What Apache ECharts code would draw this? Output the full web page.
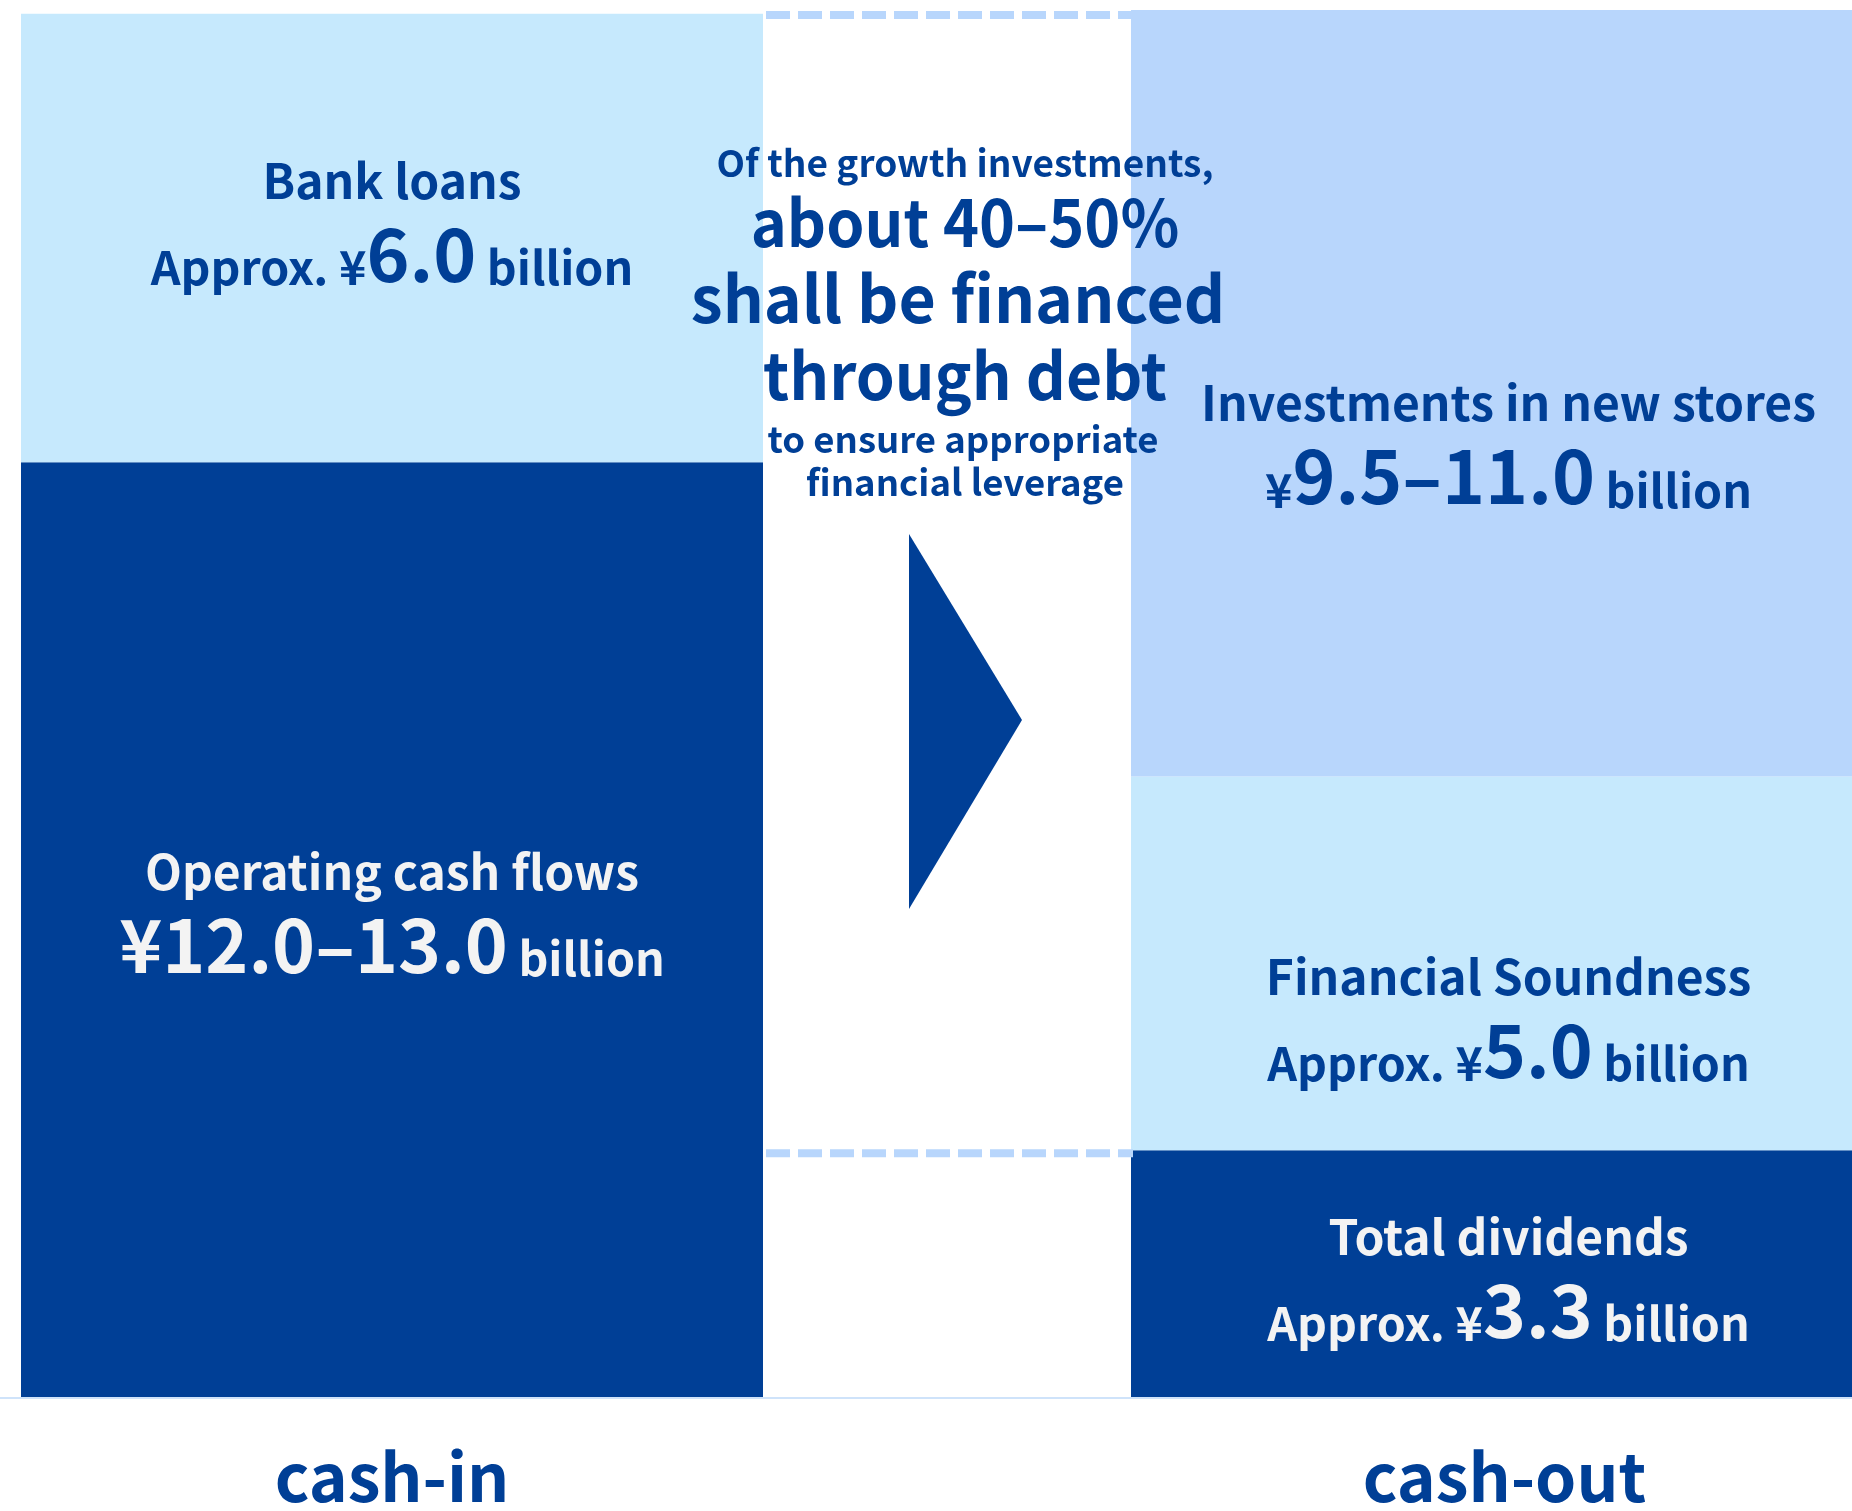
<!DOCTYPE html>
<html>
<head>
<meta charset="utf-8">
<script src="https://cdn.jsdelivr.net/npm/echarts@6/dist/echarts.min.js"></script>
<style>
  html, body { margin: 0; padding: 0; background: #ffffff; }
  #chart { width: 1852px; height: 1511px; }
</style>
</head>
<body>
<div id="chart"></div>
<script>
// Cash allocation plan, billions of yen. Ranges are drawn at their midpoint.
const sides = ['cash-in', 'cash-out'];

const cashInNames = ['Operating cash flows', 'Bank loans'];
const cashInValues = [12.5, 6.0];            // ¥12.0–13.0 bn, approx. ¥6.0 bn
const cashInLabels = [
  '{tw|Operating cash flows}\n{bw|¥12.0–13.0}{sw| billion}',
  '{t|Bank loans}\n{s|Approx. ¥}{b|6.0}{s| billion}'
];

const cashOutNames = ['Total dividends', 'Financial Soundness', 'Investments in new stores'];
const cashOutValues = [3.3, 5.0, 10.25];     // approx. ¥3.3 bn, approx. ¥5.0 bn, ¥9.5–11.0 bn
const cashOutLabels = [
  '{tw|Total dividends}\n{sw|Approx. ¥}{bw|3.3}{sw| billion}',
  '{t|Financial Soundness}\n{s|Approx. ¥}{b|5.0}{s| billion}',
  '{t|Investments in new stores}\n{s|¥}{b|9.5–11.0}{s| billion}'
];

const noteLines = [
  'Of the growth investments,',
  'about 40–50%',
  'shall be financed',
  'through debt',
  'to ensure appropriate',
  'financial leverage'
];

// ---- styling ----
const NAVY = '#003f96';
const PALE = '#c6e9fd';
const SKY = '#b8d6fc';
const WHITE_TXT = '#f3f3f3';
const FONT = '"Noto Sans CJK JP", "Noto Sans", sans-serif';
const segColorsIn = [NAVY, PALE];
const segColorsOut = [NAVY, PALE, SKY];
// label nudges (px) for each segment, in series order
const labelOffsetsIn = [[0, -21], [0, -20]];
const labelOffsetsOut = [[17, 0], [17, 50], [17, 47]];

const sum = a => a.reduce((s, v) => s + v, 0);
const yMax = Math.max(sum(cashInValues), sum(cashOutValues));

function rich() {
  const base = { fontFamily: FONT, fontWeight: 'bold', verticalAlign: 'bottom' };
  const mk = (size, lh, color) => Object.assign({ fontSize: size, lineHeight: lh, color: color }, base);
  return {
    t: mk(48, 60, NAVY),
    s: mk(46.5, 86, NAVY),
    b: mk(73, 86, NAVY),
    tw: mk(48, 60, WHITE_TXT),
    sw: mk(46.5, 86, WHITE_TXT),
    bw: mk(73, 86, WHITE_TXT)
  };
}

function stackSeries(names, values, labels, colors, offsets, axisIndex, stackId) {
  return names.map((name, i) => ({
    name: name,
    type: 'bar',
    stack: stackId,
    xAxisIndex: axisIndex,
    yAxisIndex: axisIndex,
    barWidth: '100%',
    data: [values[i]],
    itemStyle: { color: colors[i] },
    emphasis: { disabled: true },
    label: {
      show: true,
      position: 'inside',
      align: 'center',
      offset: offsets[i],
      formatter: () => labels[i],
      rich: rich()
    }
  }));
}

const GRID_TOP = 10;
const GRID_BOTTOM = 114;

const chart = echarts.init(document.getElementById('chart'), null, { renderer: 'canvas' });

function categoryAxis(gridIndex, name, padLeft) {
  return {
    type: 'category',
    gridIndex: gridIndex,
    data: [name],
    axisLine: { show: false },
    axisTick: { show: false },
    axisLabel: {
      margin: 47,
      padding: [0, 0, 0, padLeft],
      fontFamily: FONT,
      fontWeight: 'bold',
      fontSize: 66,
      color: NAVY
    }
  };
}

const option = {
  backgroundColor: '#ffffff',
  animation: false,
  grid: [
    { left: 21, width: 742, top: GRID_TOP, bottom: GRID_BOTTOM },
    { left: 1131, width: 721, top: GRID_TOP, bottom: GRID_BOTTOM }
  ],
  xAxis: [
    categoryAxis(0, sides[0], 0),
    categoryAxis(1, sides[1], 26)
  ],
  yAxis: [0, 1].map(g => ({
    type: 'value', gridIndex: g, min: 0, max: yMax, show: false,
    splitLine: { show: false }
  })),
  series: [
    ...stackSeries(cashInNames, cashInValues, cashInLabels, segColorsIn, labelOffsetsIn, 0, 'in'),
    ...stackSeries(cashOutNames, cashOutValues, cashOutLabels, segColorsOut, labelOffsetsOut, 1, 'out')
  ]
};

chart.setOption(option);

// Decorations placed from the axis scale: the dashed guide lines mark the
// top of the plan and the top of the dividends block.
const topY = chart.convertToPixel({ yAxisIndex: 1 }, yMax);
const divY = chart.convertToPixel({ yAxisIndex: 1 }, cashOutValues[0]);
const baseY = chart.convertToPixel({ yAxisIndex: 1 }, 0);

const noteSizes = [37, 65, 65, 65, 36.5, 36.5];
const noteCenters = [163, 222, 298, 375, 439, 482];
const noteX = [965, 965, 958, 965, 963, 965];
const noteScaleX = [1, 0.94, 0.99, 0.96, 1, 1];

chart.setOption({
  graphic: [
    {
      type: 'line', z: 1, silent: true,
      shape: { x1: 0, y1: baseY + 1, x2: 1852, y2: baseY + 1 },
      style: { stroke: '#cfe3fa', lineWidth: 2 }
    },
    {
      type: 'line', z: 50, silent: true,
      shape: { x1: 766, y1: topY + 5, x2: 1133, y2: topY + 5 },
      style: { stroke: SKY, lineWidth: 8, lineDash: [24, 8] }
    },
    {
      type: 'line', z: 50, silent: true,
      shape: { x1: 766, y1: divY + 3, x2: 1133, y2: divY + 3 },
      style: { stroke: SKY, lineWidth: 8, lineDash: [24, 8] }
    },
    {
      type: 'polygon', z: 50, silent: true,
      shape: { points: [[909, 534], [909, 909], [1022, 720]] },
      style: { fill: NAVY }
    },
    ...noteLines.map((txt, i) => ({
      type: 'text', z: 60, silent: true,
      x: noteX[i], y: noteCenters[i],
      scaleX: noteScaleX[i],
      style: {
        text: txt,
        fill: NAVY,
        font: 'bold ' + noteSizes[i] + 'px ' + FONT,
        align: 'center',
        verticalAlign: 'middle'
      }
    }))
  ]
});
</script>
</body>
</html>
